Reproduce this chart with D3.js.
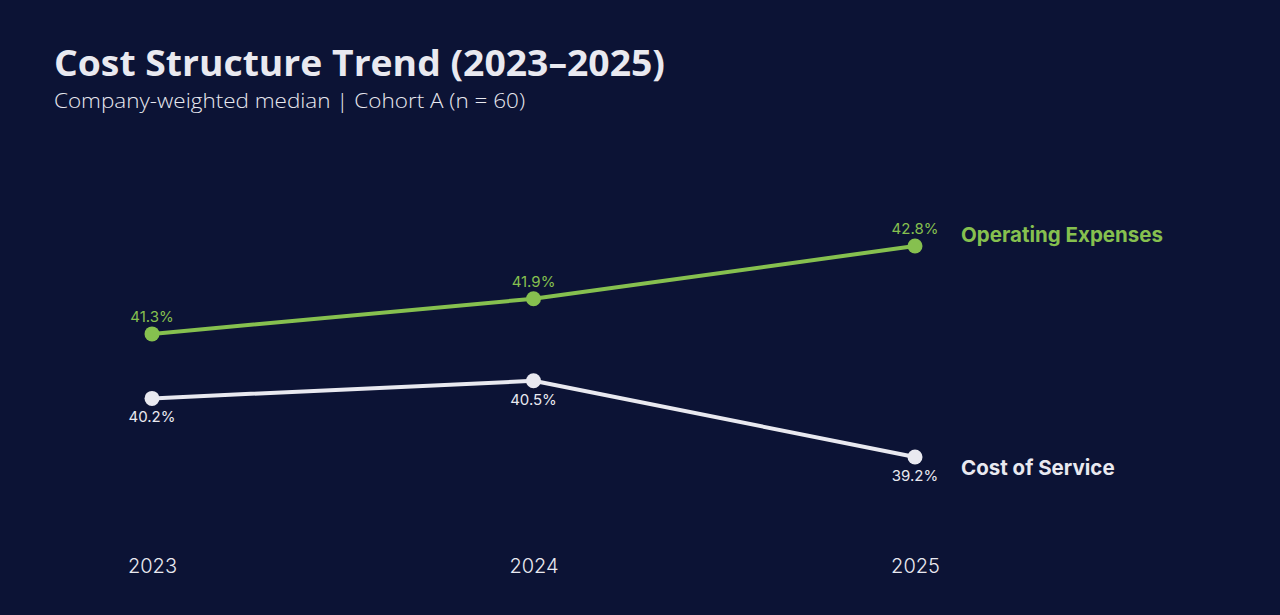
<!DOCTYPE html>
<html><head><meta charset="utf-8">
<script src="https://cdn.jsdelivr.net/npm/d3@7"></script>
<style>
html,body{margin:0;padding:0;background:#0c1335;}
svg{display:block;}
</style></head>
<body>
<svg id="chart" width="1280" height="615"></svg>
<script>
const years = ["2023", "2024", "2025"];
const operatingExpenses = [41.3, 41.9, 42.8];
const costOfService = [40.2, 40.5, 39.2];
const seriesNames = ["Operating Expenses", "Cost of Service"];
const title = "Cost Structure Trend (2023–2025)";
const subtitle = "Company-weighted median | Cohort A (n = 60)";

const W = 1280, H = 615;
const bg = "#0c1335", green = "#86c04f", white = "#e9e9f0";
const svg = d3.select("#chart");
svg.append("rect").attr("width", W).attr("height", H).attr("fill", bg);

const x = d3.scalePoint().domain(years).range([152, 915]);
const y = d3.scaleLinear().domain([38.5, 43.5]).range([498, 205]);

svg.append("text").attr("x", 54).attr("y", 76).text(title)
  .attr("fill", white).attr("font-family", "'Open Sans', Lato, sans-serif")
  .attr("font-weight", 700).attr("font-size", 35)
  .attr("textLength", 611).attr("lengthAdjust", "spacingAndGlyphs");
svg.append("text").attr("x", 54).attr("y", 108).text(subtitle)
  .attr("fill", white).attr("font-family", "'Open Sans', Lato, sans-serif")
  .attr("font-weight", 300).attr("font-size", 20)
  .attr("textLength", 471).attr("lengthAdjust", "spacingAndGlyphs");

// x axis labels
const xAxis = d3.axisBottom(x).tickSize(0).tickPadding(0);
const gx = svg.append("g").attr("transform", "translate(0,559)").call(xAxis);
gx.select(".domain").remove();
gx.selectAll("text").attr("fill", white).attr("font-family", "Inter, 'Noto Sans', sans-serif")
  .attr("font-weight", 300).attr("font-size", 20);

const series = [
  {name: seriesNames[0], values: operatingExpenses, color: green, above: true},
  {name: seriesNames[1], values: costOfService, color: white, above: false}
];
const line = d3.line().x((d, i) => x(years[i])).y(d => y(d));

series.forEach(s => {
  const g = svg.append("g");
  g.append("path").datum(s.values).attr("d", line)
    .attr("fill", "none").attr("stroke", s.color).attr("stroke-width", 4)
    .attr("stroke-linejoin", "round");
  g.selectAll("circle").data(s.values).join("circle")
    .attr("cx", (d, i) => x(years[i])).attr("cy", d => y(d)).attr("r", 7.5)
    .attr("fill", s.color);
  g.selectAll("text.val").data(s.values).join("text").attr("class", "val")
    .attr("x", (d, i) => x(years[i]))
    .attr("y", d => s.above ? y(d) - 12 : y(d) + 24)
    .attr("text-anchor", "middle")
    .attr("fill", s.color).attr("font-family", "Inter, 'Noto Sans', sans-serif")
    .attr("font-size", 15).text(d => d.toFixed(1) + "%");
  const last = s.values[s.values.length - 1];
  g.append("text").attr("x", 961)
    .attr("y", s.above ? y(last) - 4 : y(last) + 18)
    .attr("fill", s.color).attr("font-family", "Inter, 'Noto Sans', sans-serif")
    .attr("font-weight", 700).attr("font-size", 20.5).text(s.name);
});
</script>
</body></html>
